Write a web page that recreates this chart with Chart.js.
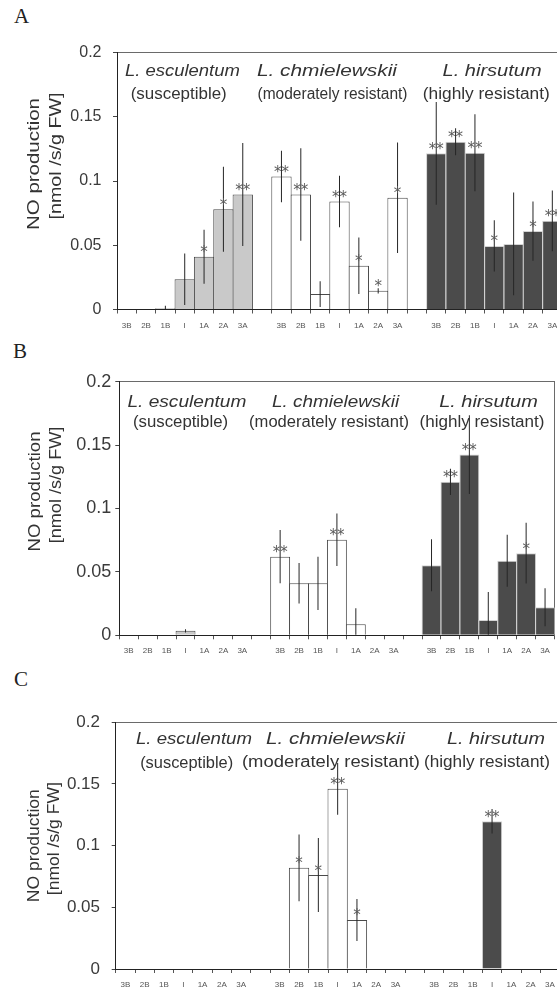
<!DOCTYPE html>
<html>
<head>
<meta charset="utf-8">
<script src="https://cdn.jsdelivr.net/npm/chart.js@4/dist/chart.umd.min.js"></script>
<style>
  html, body { margin: 0; padding: 0; background: #fff; overflow: hidden; width: 557px; height: 994px; }
  body { position: relative; }
  canvas { position: absolute; left: 0; }
  .tag { position: absolute; font-family: "Liberation Serif", "DejaVu Serif", serif; font-size: 21px; line-height: 21px; color: #222; }
</style>
</head>
<body>
<div class="tag" style="left:14px;top:6px">A</div>
<div class="tag" style="left:13px;top:341px">B</div>
<div class="tag" style="left:14px;top:669px">C</div>
<canvas id="chartA"></canvas>
<canvas id="chartB"></canvas>
<canvas id="chartC"></canvas>
<script>
// Leaf-position categories, shared by all three species groups
const stages = ['3B', '2B', '1B', 'I', '1A', '2A', '3A'];
const species = ['L. esculentum', 'L. chmielewskii', 'L. hirsutum'];
const resistance = ['(susceptible)', '(moderately resistant)', '(highly resistant)'];
const yTicks = [0, 0.05, 0.1, 0.15, 0.2];

// Panel A: mean NO production, error and significance, 7 stages per species
const meanA = [0, 0, 0.001, 0.0235, 0.041, 0.078, 0.0895,
               0.1035, 0.0895, 0.012, 0.084, 0.034, 0.0145, 0.087,
               0.1215, 0.1305, 0.122, 0.0495, 0.051, 0.061, 0.069];
const errA  = [0, 0, 0.002, 0.020, 0.021, 0.033, 0.040,
               0.020, 0.036, 0.010, 0.020, 0.022, 0.002, 0.043,
               0.040, 0.0105, 0.030, 0.020, 0.040, 0.023, 0.0236];
const sigA  = ['', '', '', '', '*', '*', '**',
               '**', '**', '', '**', '*', '*', '*',
               '**', '**', '**', '*', '', '*', '**'];

// Panel B
const meanB = [0, 0, 0, 0.0035, 0, 0, 0,
               0.062, 0.041, 0.041, 0.0753, 0.0087, 0, 0,
               0.0553, 0.121, 0.1425, 0.0121, 0.0587, 0.0648, 0.0221];
const errB  = [0, 0, 0, 0.0012, 0, 0, 0,
               0.021, 0.016, 0.021, 0.0207, 0.0126, 0, 0,
               0.0205, 0.0104, 0.031, 0.022, 0.0205, 0.024, 0.015];
const sigB  = ['', '', '', '', '', '', '',
               '**', '', '', '**', '', '', '',
               '', '**', '**', '', '', '*', ''];

// Panel C
const meanC = [0, 0, 0, 0, 0, 0, 0,
               0, 0.082, 0.0762, 0.1461, 0.0398, 0, 0,
               0, 0, 0, 0.1198, 0, 0, 0];
const errC  = [0, 0, 0, 0, 0, 0, 0,
               0, 0.027, 0.030, 0.021, 0.017, 0, 0,
               0, 0, 0, 0.010, 0, 0, 0];
const sigC  = ['', '', '', '', '', '', '',
               '', '*', '*', '**', '*', '', '',
               '', '', '', '**', '', '', ''];

// ---- styling ----
const FILL   = ['#c9c9c9', '#ffffff', '#4b4b4b'];
const EDGE   = ['#4a4a4a', '#4a4a4a', '#d4d4d4'];
const INK    = '#333333';
const SANS   = '"Liberation Sans", Arial, sans-serif';

// 7 bars per species, one blank slot between species
const slotLabels = [];
stages.forEach(s => slotLabels.push(s)); slotLabels.push('');
stages.forEach(s => slotLabels.push(s)); slotLabels.push('');
stages.forEach(s => slotLabels.push(s));

function toSlots(values, fill) {
  const out = new Array(slotLabels.length).fill(fill);
  values.forEach((v, i) => { out[Math.floor(i / 7) * 8 + (i % 7)] = v; });
  return out;
}

function drawFitted(ctx, text, x, y, font, width, angle) {
  ctx.save();
  ctx.font = font;
  const w = ctx.measureText(text).width;
  ctx.translate(x, y);
  if (angle) ctx.rotate(angle);
  ctx.scale(width / w, 1);
  ctx.textAlign = 'center';
  ctx.textBaseline = 'middle';
  ctx.fillText(text, 0, 0);
  ctx.restore();
}

// Species headings, y-axis title and significance marks
const panelText = {
  id: 'panelText',
  afterDatasetsDraw(chart, args, opts) {
    const ctx = chart.ctx;
    const xs = chart.scales.x;
    const area = chart.chartArea;
    ctx.save();
    ctx.fillStyle = INK;
    opts.heads.forEach(h => {
      const text = h.row === 0 ? species[h.g] : resistance[h.g];
      const font = (h.row === 0 ? 'italic ' : '') + h.size + 'px ' + SANS;
      const cx = xs.getPixelForValue(h.g * 8 + 3) + h.dx;
      drawFitted(ctx, text, cx, area.top + h.dy, font, h.w);
    });
    const midY = (area.top + area.bottom) / 2;
    drawFitted(ctx, 'NO production', opts.title[0].x, midY + opts.title[0].dy,
               opts.title[0].size + 'px ' + SANS, opts.title[0].len, -Math.PI / 2);
    drawFitted(ctx, '[nmol /s/g FW]', opts.title[1].x, midY + opts.title[1].dy,
               opts.title[1].size + 'px ' + SANS, opts.title[1].len, -Math.PI / 2);

    const meta = chart.getDatasetMeta(1);
    ctx.fillStyle = '#5a5a5a';
    ctx.font = '15px "DejaVu Sans", sans-serif';
    ctx.textAlign = 'center';
    ctx.textBaseline = 'alphabetic';
    opts.marks.forEach((m, i) => {
      const el = meta.data[i];
      if (!m || !el || el.skip) return;
      ctx.fillText(m, el.x, el.y + 0.5);
    });
    ctx.restore();
  }
};

function buildPanel(id, means, errs, sigs, L) {
  const canvas = document.getElementById(id);
  canvas.width = L.W; canvas.height = L.H;
  canvas.style.top = L.top + 'px';
  canvas.style.width = L.W + 'px'; canvas.style.height = L.H + 'px';

  const barData = toSlots(means.map(v => (v > 0 ? v : null)), null);
  const errData = toSlots(means.map((v, i) => (v > 0 && errs[i] > 0 ? [Math.max(0, v - errs[i]), v + errs[i]] : null)), null);
  const fills = toSlots(means.map((v, i) => FILL[Math.floor(i / 7)]), '#fff');
  const edges = toSlots(means.map((v, i) => EDGE[Math.floor(i / 7)]), '#fff');
  const slotW = (L.right - L.left) / slotLabels.length;

  new Chart(canvas, {
    type: 'bar',
    data: {
      labels: slotLabels,
      datasets: [
        { // error bars
          data: errData, backgroundColor: '#262626', borderWidth: 0, inflateAmount: 0,
          barThickness: 1, grouped: false, order: 0
        },
        { // means
          data: barData, backgroundColor: fills, borderColor: edges,
          borderWidth: 1, borderSkipped: 'bottom', inflateAmount: 0,
          categoryPercentage: 1, barPercentage: 1 + 1 / slotW,
          grouped: false, order: 1
        }
      ]
    },
    options: {
      responsive: false, animation: false, devicePixelRatio: 1,
      layout: { padding: { top: L.plotTop, right: L.W - L.right, left: 0, bottom: 0 } },
      plugins: {
        legend: { display: false }, tooltip: { enabled: false },
        panelText: { heads: L.heads, title: L.title, marks: toSlots(sigs, '') }
      },
      scales: {
        x: {
          offset: true,
          grid: { offset: true, drawOnChartArea: false, drawTicks: true, tickLength: 4, color: '#555' },
          border: { display: true, color: '#222', width: 1 },
          ticks: { autoSkip: false, maxRotation: 0, padding: 7, color: '#555', font: { family: SANS, size: 8 } },
          afterFit: s => { s.height = L.H - L.plotBottom; }
        },
        x2: {
          position: 'top', labels: slotLabels, type: 'category',
          grid: { display: false }, ticks: { display: false },
          border: { display: true, color: '#6a6a6a', width: 1 },
          afterFit: s => { s.height = 0; }
        },
        y: {
          min: 0, max: 0.2,
          afterBuildTicks: s => { s.ticks = yTicks.map(v => ({ value: v })); },
          grid: { drawOnChartArea: false, drawTicks: true, tickLength: 4, color: '#444' },
          border: { display: true, color: '#222', width: 1 },
          ticks: { padding: L.yPad, color: '#3a3a3a', font: { family: SANS, size: L.ySize },
                   callback: v => String(v) },
          afterFit: s => { s.width = L.left; }
        },
        y2: {
          position: 'right', min: 0, max: 1,
          grid: { display: false }, ticks: { display: false },
          border: { display: true, color: '#6a6a6a', width: 1 },
          afterFit: s => { s.width = 0; }
        }
      }
    },
    plugins: [panelText]
  });
}

buildPanel('chartA', meanA, errA, sigA, {
  top: 0, W: 566, H: 335, left: 117, right: 562, plotTop: 52.5, plotBottom: 309.5,
  yPad: 11.5, ySize: 16,
  heads: [
    { g: 0, row: 0, dx: -2.3, dy: 19.5, w: 115, size: 16 },
    { g: 0, row: 1, dx: -6,   dy: 42,   w: 96,  size: 16 },
    { g: 1, row: 0, dx: -12.6, dy: 19.5, w: 140, size: 16 },
    { g: 1, row: 1, dx: -7,   dy: 42,   w: 150, size: 16 },
    { g: 2, row: 0, dx: -2.2, dy: 19.5, w: 99,  size: 16 },
    { g: 2, row: 1, dx: -8,   dy: 42,   w: 127, size: 16 }
  ],
  title: [ { x: 34.5, dy: -17, len: 132, size: 17 }, { x: 56.3, dy: -25, len: 127, size: 16 } ]
});

buildPanel('chartB', meanB, errB, sigB, {
  top: 330, W: 557, H: 330, left: 119.3, right: 556, plotTop: 51.7, plotBottom: 305.3,
  yPad: 4, ySize: 18,
  heads: [
    { g: 0, row: 0, dx: 1.4,  dy: 21, w: 119, size: 16 },
    { g: 0, row: 1, dx: -5,   dy: 41, w: 95,  size: 16 },
    { g: 1, row: 0, dx: -1.3, dy: 21, w: 127, size: 16 },
    { g: 1, row: 1, dx: -7.8, dy: 41, w: 160, size: 16 },
    { g: 2, row: 0, dx: 0.2,  dy: 21, w: 98.6, size: 16 },
    { g: 2, row: 1, dx: -6.3, dy: 41, w: 125, size: 16 }
  ],
  title: [ { x: 35.5, dy: -17, len: 120, size: 17 }, { x: 56.5, dy: -23.5, len: 116.7, size: 16 } ]
});

buildPanel('chartC', meanC, errC, sigC, {
  top: 660, W: 566, H: 334, left: 115.7, right: 559.6, plotTop: 62.3, plotBottom: 309,
  yPad: 11.7, ySize: 17,
  heads: [
    { g: 0, row: 0, dx: 10.7, dy: 17.7, w: 116, size: 16 },
    { g: 0, row: 1, dx: 3.4,  dy: 41.7, w: 93,  size: 16 },
    { g: 1, row: 0, dx: -2.2, dy: 17.7, w: 139, size: 16 },
    { g: 1, row: 1, dx: -6.7, dy: 40.5, w: 178, size: 16 },
    { g: 2, row: 0, dx: 3.9,  dy: 17.7, w: 98,  size: 16 },
    { g: 2, row: 1, dx: -5.1, dy: 40.5, w: 126, size: 16 }
  ],
  title: [ { x: 34, dy: 0, len: 113, size: 17 }, { x: 55, dy: -7, len: 113, size: 16 } ]
});
</script>
</body>
</html>
